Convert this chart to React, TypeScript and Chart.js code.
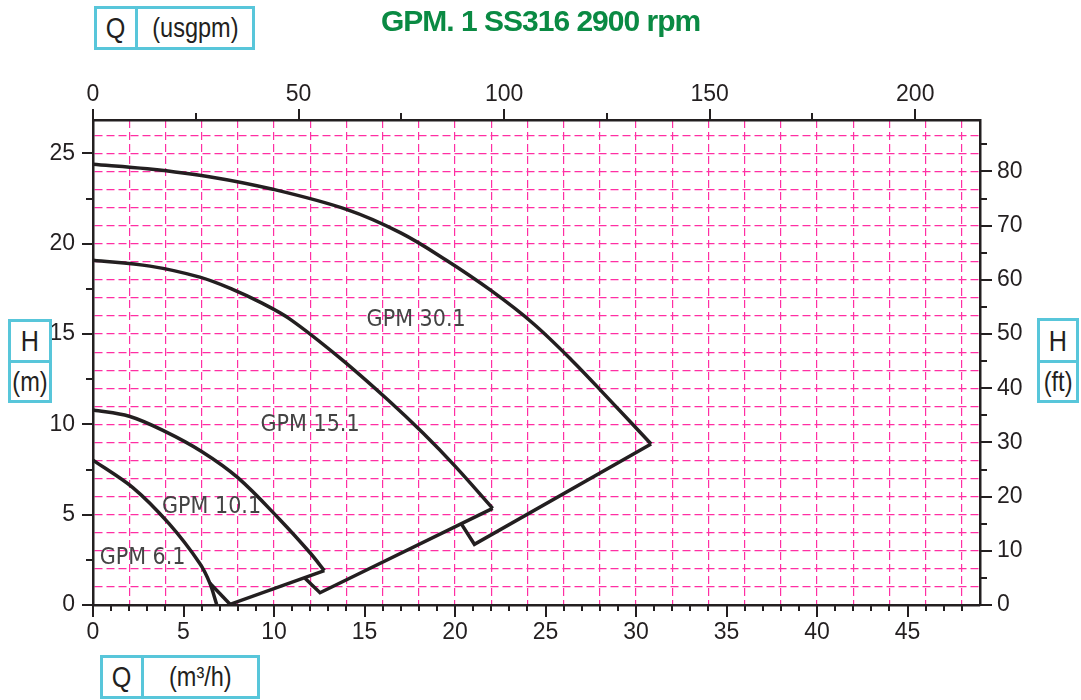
import React, { useEffect, useRef } from 'react';
import { Chart, registerables } from 'chart.js';

Chart.register(...registerables);

// ---------- data ----------
const TITLE = 'GPM. 1 SS316 2900 rpm';

const qM3hTickLabels = [0, 5, 10, 15, 20, 25, 30, 35, 40, 45];
const qUsgpmTickLabels = [0, 50, 100, 150, 200];
const hMTickLabels = [0, 5, 10, 15, 20, 25];
const hFtTickLabels = [0, 10, 20, 30, 40, 50, 60, 70, 80];

const Q_MAX = 49;
const H_MAX = 26.85;
const USGPM_PER_M3H = 4.403;
const M_PER_FT = 0.3;

const gpm301Q = [0, 3, 6.5, 10, 14, 17, 19.5, 22, 24.3, 26.5, 28.5, 30.83];
const gpm301H = [24.4, 24.15, 23.7, 23.0, 21.9, 20.6, 19.1, 17.4, 15.6, 13.5, 11.4, 8.91];
const gpm301EndQ = [30.83, 21.07, 20.33];
const gpm301EndH = [8.91, 3.36, 4.52];

const gpm151Q = [0, 3.15, 5.9, 7.68, 9.34, 10.88, 13.65, 16.3, 18.23, 20.0, 22.08];
const gpm151H = [19.09, 18.76, 18.15, 17.49, 16.71, 15.83, 13.67, 11.35, 9.52, 7.69, 5.35];
const gpm151EndQ = [22.08, 12.54, 11.71];
const gpm151EndH = [5.35, 0.68, 1.48];

const gpm101Q = [0, 2, 4, 6, 8, 10.3, 12, 12.78];
const gpm101H = [10.8, 10.45, 9.6, 8.5, 7.05, 4.75, 2.88, 1.9];
const gpm101EndQ = [12.78, 7.57];
const gpm101EndH = [1.9, 0.04];

const gpm61Q = [0, 2.2, 4.2, 5.9, 6.46, 6.83];
const gpm61H = [8.02, 6.5, 4.5, 2.3, 1.2, 0.04];
const gpm61EndQ = [6.46, 7.57];
const gpm61EndH = [1.2, 0.04];

const curveLabelText = ['GPM 30.1', 'GPM 15.1', 'GPM 10.1', 'GPM 6.1'];
const curveLabelQ = [17.85, 11.99, 6.55, 2.74];
const curveLabelH = [15.77, 9.96, 5.4, 2.6];

// ---------- styles ----------
const LINE = '#231f20';
const GRID = '#ff2fa3';
const CYAN = '#58c6da';
const GREEN = '#0a8a43';
const SANS = "'Liberation Sans', Arial, sans-serif";
const TICK_FONT = { family: SANS, size: 23 };

const pts = (qs: number[], hs: number[]) => qs.map((q, i) => ({ x: q, y: hs[i] }));

const xTickValues = Array.from({ length: Q_MAX }, (_, i) => i).filter(
  (v) => v % 2 === 0 || qM3hTickLabels.includes(v)
);
const yTickValues = Array.from({ length: Math.floor(H_MAX) + 1 }, (_, i) => i);

const decorPlugin = {
  id: 'decor',
  afterDraw(chart: any) {
    const { ctx, chartArea, scales } = chart;
    const { x, x2, y, y2 } = scales;
    ctx.save();
    ctx.strokeStyle = LINE;
    ctx.lineWidth = 2;
    const seg = (a: number, b: number, c: number, d: number) => {
      ctx.beginPath();
      ctx.moveTo(a, b);
      ctx.lineTo(c, d);
      ctx.stroke();
    };
    for (let v = 0; v < Q_MAX; v += 1) {
      const px = Math.round(x.getPixelForValue(v));
      seg(px, chartArea.bottom, px, chartArea.bottom + (v % 5 === 0 ? 12 : 6));
    }
    for (let v = 0; v <= x2.max; v += 25) {
      const px = Math.round(x2.getPixelForValue(v));
      seg(px, chartArea.top, px, chartArea.top - (v % 50 === 0 ? 11 : 7));
    }
    for (let v = 0; v <= H_MAX; v += 2.5) {
      const py = Math.round(y.getPixelForValue(v));
      seg(chartArea.left, py, chartArea.left - (v % 5 === 0 ? 11 : 7), py);
    }
    for (let v = 0; v <= y2.max; v += 5) {
      const py = Math.round(y2.getPixelForValue(v));
      seg(chartArea.right, py, chartArea.right + (v % 10 === 0 ? 12 : 7), py);
    }
    ctx.fillStyle = '#444';
    ctx.font = "23px 'DejaVu Sans Condensed', 'DejaVu Sans', sans-serif";
    ctx.textAlign = 'center';
    ctx.textBaseline = 'middle';
    curveLabelText.forEach((t, i) => {
      ctx.fillText(t, x.getPixelForValue(curveLabelQ[i]), y.getPixelForValue(curveLabelH[i]));
    });
    ctx.restore();
  },
};

const lineDs = (label: string, data: any[], tension: number) => ({
  label,
  data,
  showLine: true,
  tension,
  borderColor: LINE,
  backgroundColor: LINE,
  borderWidth: 3.5,
  pointRadius: 0,
  pointHoverRadius: 0,
  fill: false,
  borderJoinStyle: 'miter' as const,
  borderCapStyle: 'butt' as const,
});

function ChartCanvas() {
  const ref = useRef<HTMLCanvasElement | null>(null);
  useEffect(() => {
    if (!ref.current) return;
    const chart = new Chart(ref.current, {
      type: 'scatter',
      data: {
        datasets: [
          lineDs('GPM 30.1', pts(gpm301Q, gpm301H), 0.35),
          lineDs('GPM 30.1 limit', pts(gpm301EndQ, gpm301EndH), 0),
          lineDs('GPM 15.1', pts(gpm151Q, gpm151H), 0.35),
          lineDs('GPM 15.1 limit', pts(gpm151EndQ, gpm151EndH), 0),
          lineDs('GPM 10.1', pts(gpm101Q, gpm101H), 0.35),
          lineDs('GPM 10.1 limit', pts(gpm101EndQ, gpm101EndH), 0),
          lineDs('GPM 6.1', pts(gpm61Q, gpm61H), 0.3),
          lineDs('GPM 6.1 limit', pts(gpm61EndQ, gpm61EndH), 0),
        ],
      },
      options: {
        responsive: false,
        animation: false,
        events: [],
        layout: { padding: 0, autoPadding: false },
        plugins: { legend: { display: false }, tooltip: { enabled: false }, title: { display: false } },
        scales: {
          x: {
            type: 'linear',
            position: 'bottom',
            min: 0,
            max: Q_MAX,
            afterBuildTicks: (s: any) => {
              s.ticks = xTickValues.map((v) => ({ value: v }));
            },
            afterFit: (s: any) => {
              s.height = 95;
            },
            ticks: {
              autoSkip: false,
              maxRotation: 0,
              padding: 14,
              font: TICK_FONT,
              color: LINE,
              callback: (v: any) => (qM3hTickLabels.includes(v) ? String(v) : ''),
            },
            grid: {
              drawTicks: false,
              lineWidth: 1.2,
              color: (c: any) =>
                c.tick && c.tick.value > 0 && c.tick.value % 2 === 0 ? GRID : 'rgba(0,0,0,0)',
            },
            border: { display: true, color: LINE, width: 2.5, dash: [8, 4] },
          },
          x2: {
            type: 'linear',
            position: 'top',
            min: 0,
            max: Q_MAX * USGPM_PER_M3H,
            afterBuildTicks: (s: any) => {
              s.ticks = qUsgpmTickLabels.map((v) => ({ value: v }));
            },
            afterFit: (s: any) => {
              s.height = 120;
            },
            ticks: {
              autoSkip: false,
              maxRotation: 0,
              padding: 12,
              font: TICK_FONT,
              color: LINE,
              callback: (v: any) => String(v),
            },
            grid: { drawTicks: false, drawOnChartArea: false },
            border: { display: true, color: LINE, width: 2.5 },
          },
          y: {
            type: 'linear',
            position: 'left',
            min: 0,
            max: H_MAX,
            afterBuildTicks: (s: any) => {
              s.ticks = yTickValues.map((v) => ({ value: v }));
            },
            afterFit: (s: any) => {
              s.width = 93;
            },
            ticks: {
              autoSkip: false,
              padding: 18,
              font: TICK_FONT,
              color: LINE,
              callback: (v: any) => (hMTickLabels.includes(v) ? String(v) : ''),
            },
            grid: {
              drawTicks: false,
              lineWidth: 1.2,
              color: (c: any) => (c.tick && c.tick.value > 0 ? GRID : 'rgba(0,0,0,0)'),
            },
            border: { display: true, color: LINE, width: 2.5, dash: [8, 4] },
          },
          y2: {
            type: 'linear',
            position: 'right',
            min: 0,
            max: H_MAX / M_PER_FT,
            afterBuildTicks: (s: any) => {
              s.ticks = hFtTickLabels.map((v) => ({ value: v }));
            },
            afterFit: (s: any) => {
              s.width = 101;
            },
            ticks: {
              autoSkip: false,
              padding: 17,
              font: TICK_FONT,
              color: LINE,
              callback: (v: any) => String(v),
            },
            grid: { drawTicks: false, drawOnChartArea: false },
            border: { display: true, color: LINE, width: 2.5 },
          },
        },
      } as any,
      plugins: [decorPlugin],
    });
    return () => chart.destroy();
  }, []);
  return <canvas ref={ref} width={1081} height={700} style={{ position: 'absolute', left: 0, top: 0 }} />;
}

const cellStyle = (size: number): React.CSSProperties => ({
  fontFamily: SANS,
  fontSize: size,
  color: LINE,
  display: 'flex',
  alignItems: 'center',
  justifyContent: 'center',
  lineHeight: 1,
  whiteSpace: 'nowrap',
});

const Narrow = ({ children }: any) => (
  <span style={{ display: 'inline-block', transform: 'scaleX(0.84)' }}>{children}</span>
);

function HBox({ left, top, width, height, split, a, b, aSize, bSize }: any) {
  return (
    <div
      style={{
        position: 'absolute',
        left,
        top,
        width,
        height,
        border: `3px solid ${CYAN}`,
        boxSizing: 'border-box',
        display: 'flex',
        flexDirection: 'row',
        background: '#fff',
      }}
    >
      <div style={{ ...cellStyle(aSize), width: split, borderRight: `3px solid ${CYAN}`, boxSizing: 'border-box' }}>
        <Narrow>{a}</Narrow>
      </div>
      <div style={{ ...cellStyle(bSize), flex: 1 }}>
        <Narrow>{b}</Narrow>
      </div>
    </div>
  );
}

function VBox({ left, top, width, height, split, a, b, aSize, bSize }: any) {
  return (
    <div
      style={{
        position: 'absolute',
        left,
        top,
        width,
        height,
        border: `3px solid ${CYAN}`,
        boxSizing: 'border-box',
        display: 'flex',
        flexDirection: 'column',
        background: '#fff',
      }}
    >
      <div style={{ ...cellStyle(aSize), height: split, borderBottom: `3px solid ${CYAN}`, boxSizing: 'border-box' }}>
        <Narrow>{a}</Narrow>
      </div>
      <div style={{ ...cellStyle(bSize), flex: 1 }}>
        <Narrow>{b}</Narrow>
      </div>
    </div>
  );
}

export default function App() {
  return (
    <div style={{ position: 'absolute', left: 0, top: 0, width: 1081, height: 700, background: '#fff', overflow: 'hidden' }}>
      <ChartCanvas />
      <div
        style={{
          position: 'absolute',
          left: 381,
          top: 6,
          fontFamily: SANS,
          fontWeight: 700,
          fontSize: 30,
          lineHeight: '30px',
          letterSpacing: -1,
          color: GREEN,
          whiteSpace: 'nowrap',
        }}
      >
        {TITLE}
      </div>
      <HBox left={94} top={6} width={161} height={44} split={41} a="Q" b="(usgpm)" aSize={30} bSize={28} />
      <HBox left={100} top={655} width={160} height={44} split={41} a="Q" b="(m³/h)" aSize={30} bSize={28} />
      <VBox left={8} top={319} width={44} height={84} split={41} a="H" b="(m)" aSize={30} bSize={28} />
      <VBox left={1037} top={318} width={42} height={85} split={42} a="H" b="(ft)" aSize={30} bSize={28} />
    </div>
  );
}
